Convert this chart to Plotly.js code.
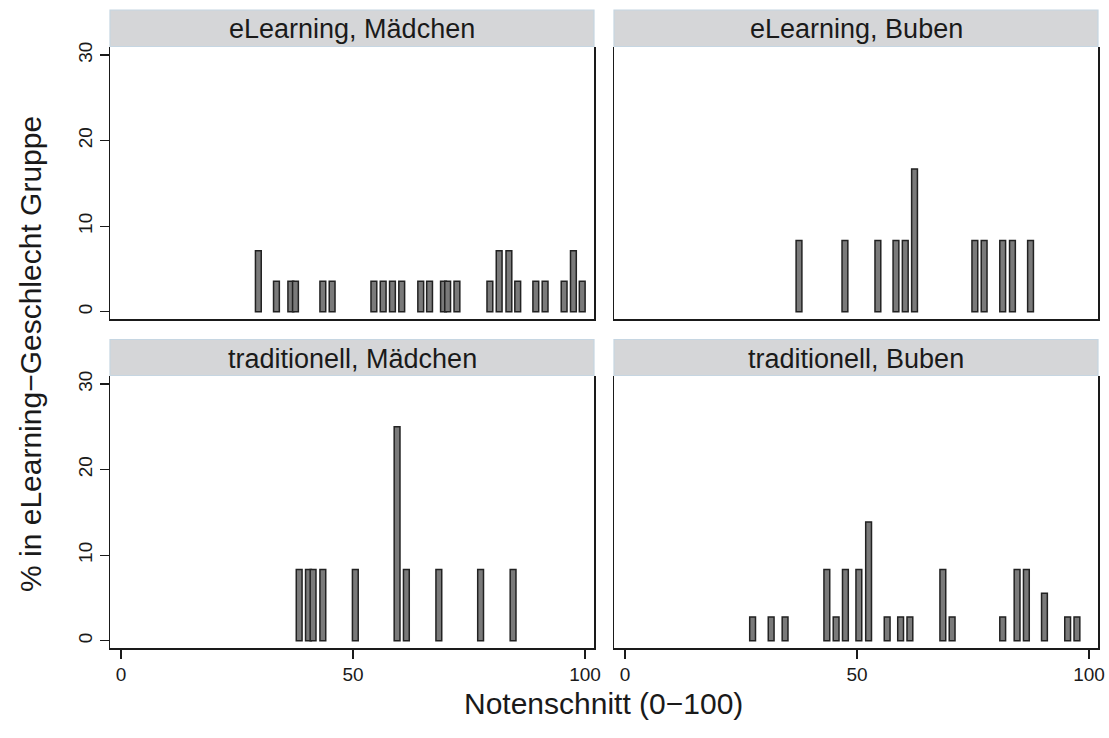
<!DOCTYPE html>
<html>
<head>
<meta charset="utf-8">
<script src="https://cdn.plot.ly/plotly-3.0.1.min.js"></script>
<style>html,body{margin:0;padding:0;background:#fff;}#chart{width:1109px;height:738px;}</style>
</head>
<body>
<div id="chart"></div>
<script>
// Panel titles
const panelTitles = ["eLearning, Mädchen", "eLearning, Buben", "traditionell, Mädchen", "traditionell, Buben"];

// eLearning, Mädchen (n = 28)
const elMaedchenX = [29.6, 33.5, 36.6, 37.6, 43.5, 45.5, 54.5, 56.5, 58.5, 60.5, 64.6, 66.5, 69.5, 70.4, 72.4, 79.5, 81.5, 83.6, 85.5, 89.4, 91.4, 95.5, 97.5, 99.4];
const elMaedchenY = [7.14, 3.57, 3.57, 3.57, 3.57, 3.57, 3.57, 3.57, 3.57, 3.57, 3.57, 3.57, 3.57, 3.57, 3.57, 3.57, 7.14, 7.14, 3.57, 3.57, 3.57, 3.57, 7.14, 3.57];

// eLearning, Buben (n = 12)
const elBubenX = [37.5, 47.4, 54.5, 58.4, 60.4, 62.4, 75.4, 77.4, 81.4, 83.5, 87.4];
const elBubenY = [8.33, 8.33, 8.33, 8.33, 8.33, 16.67, 8.33, 8.33, 8.33, 8.33, 8.33];

// traditionell, Mädchen (n = 12)
const trMaedchenX = [38.4, 40.4, 41.4, 43.5, 50.5, 59.5, 61.5, 68.5, 77.5, 84.5];
const trMaedchenY = [8.33, 8.33, 8.33, 8.33, 8.33, 25.0, 8.33, 8.33, 8.33, 8.33];

// traditionell, Buben (n = 36)
const trBubenX = [27.5, 31.5, 34.5, 43.5, 45.5, 47.5, 50.4, 52.5, 56.5, 59.4, 61.4, 68.5, 70.5, 81.4, 84.5, 86.5, 90.4, 95.4, 97.4];
const trBubenY = [2.78, 2.78, 2.78, 8.33, 2.78, 8.33, 8.33, 13.89, 2.78, 2.78, 2.78, 8.33, 2.78, 2.78, 8.33, 8.33, 5.56, 2.78, 2.78];

const xTicks = [0, 50, 100];
const yTicks = [0, 10, 20, 30];

const W = 1109, H = 738;
const px = v => v / W;
const py = v => 1 - v / H;

const barStyle = {color: '#7a7a7a', line: {color: '#222222', width: 1.5}};
const BW = 1.25;
function mk(x, y, xa, ya) {
  return {type: 'bar', x: x, y: y, xaxis: xa, yaxis: ya, width: x.map(() => BW),
          marker: barStyle, hoverinfo: 'x+y', showlegend: false};
}

const data = [
  mk(elMaedchenX, elMaedchenY, 'x', 'y'),
  mk(elBubenX, elBubenY, 'x2', 'y2'),
  mk(trMaedchenX, trMaedchenY, 'x3', 'y3'),
  mk(trBubenX, trBubenY, 'x4', 'y4')
];

const font = {family: 'Liberation Sans, Arial, sans-serif', color: '#1a1a1a'};
const xRange = [-2.37, 101.94];
const yRange = [-0.85, 30.94];
const colL = [px(110), px(594)], colR = [px(614), px(1098)];
const rowT = [py(319), py(47)], rowB = [py(648), py(376)];
const TICKSIZE = 19;

function xa(domain, anchor, labels) {
  return {domain: domain, anchor: anchor, range: xRange, tickvals: xTicks,
    showticklabels: labels, ticks: labels ? 'outside' : '', ticklen: 9, tickwidth: 1.3, tickcolor: '#1a1a1a',
    showline: true, linecolor: '#1a1a1a', linewidth: 1.5, showgrid: false, zeroline: false,
    tickfont: {size: TICKSIZE, family: font.family, color: '#1a1a1a'}, fixedrange: true};
}
function ya(domain, anchor, labels) {
  return {domain: domain, anchor: anchor, range: yRange, tickvals: yTicks,
    showticklabels: labels, ticks: labels ? 'outside' : '', ticklen: 9, tickwidth: 1.3, tickcolor: '#1a1a1a',
    tickangle: -90, showline: true, mirror: true, linecolor: '#1a1a1a', linewidth: 1.5,
    showgrid: false, zeroline: false,
    tickfont: {size: TICKSIZE, family: font.family, color: '#1a1a1a'}, fixedrange: true};
}

const strips = [
  {x0: 110, x1: 594, y0: 10, y1: 46.5, t: panelTitles[0]},
  {x0: 614, x1: 1098, y0: 10, y1: 46.5, t: panelTitles[1]},
  {x0: 110, x1: 594, y0: 339.5, y1: 375.5, t: panelTitles[2]},
  {x0: 614, x1: 1098, y0: 339.5, y1: 375.5, t: panelTitles[3]}
];

const shapes = strips.map(s => ({type: 'rect', xref: 'paper', yref: 'paper',
  x0: px(s.x0), x1: px(s.x1), y0: py(s.y1), y1: py(s.y0),
  fillcolor: '#d5d6d8', line: {color: '#c6d6e2', width: 1.2}, layer: 'below'}));

const annotations = strips.map(s => ({xref: 'paper', yref: 'paper',
  x: px((s.x0 + s.x1) / 2), y: py((s.y0 + s.y1) / 2 + 1), text: s.t, showarrow: false,
  xanchor: 'center', yanchor: 'middle', font: {size: 27, family: font.family, color: '#1a1a1a'}}));

annotations.push({xref: 'paper', yref: 'paper', x: px(603), y: py(703), text: 'Notenschnitt (0−100)',
  showarrow: false, xanchor: 'center', yanchor: 'middle', font: {size: 30, family: font.family, color: '#1a1a1a'}});
annotations.push({xref: 'paper', yref: 'paper', x: px(30), y: py(354), text: '% in eLearning−Geschlecht Gruppe',
  showarrow: false, textangle: -90, xanchor: 'center', yanchor: 'middle', font: {size: 30, family: font.family, color: '#1a1a1a'}});

const layout = {
  width: W, height: H, margin: {l: 0, r: 0, t: 0, b: 0},
  paper_bgcolor: '#ffffff', plot_bgcolor: '#ffffff',
  barmode: 'overlay', showlegend: false, font: font,
  xaxis: xa(colL, 'y', false), yaxis: ya(rowT, 'x', true),
  xaxis2: xa(colR, 'y2', false), yaxis2: ya(rowT, 'x2', false),
  xaxis3: xa(colL, 'y3', true), yaxis3: ya(rowB, 'x3', true),
  xaxis4: xa(colR, 'y4', true), yaxis4: ya(rowB, 'x4', false),
  shapes: shapes, annotations: annotations
};

Plotly.newPlot('chart', data, layout, {displayModeBar: false, staticPlot: true});
</script>
</body>
</html>
